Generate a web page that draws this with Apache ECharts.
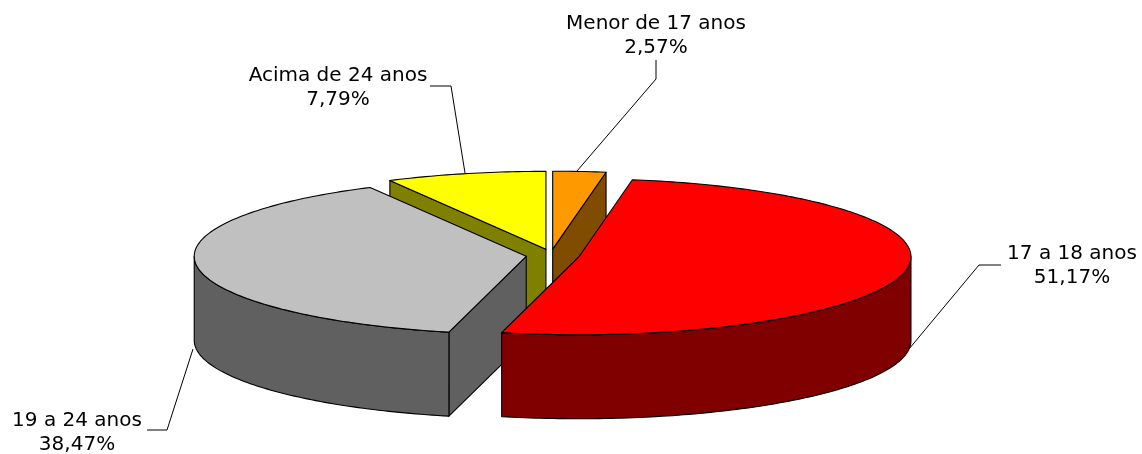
<!DOCTYPE html>
<html>
<head>
<meta charset="utf-8">
<style>html,body{margin:0;padding:0;background:#fff}#c{width:1142px;height:454px}</style>
<script src="https://cdn.jsdelivr.net/npm/echarts@6/dist/echarts.min.js"></script>
</head>
<body>
<div id="c"></div>
<script>
// Data, clockwise from 12 o'clock
var categories = ['Menor de 17 anos', '17 a 18 anos', '19 a 24 anos', 'Acima de 24 anos'];
var percentValues = [2.57, 51.17, 38.47, 7.79];
var percentLabels = ['2,57%', '51,17%', '38,47%', '7,79%'];

// Styling and layout, by slice
var topColors = ['#ff9900', '#ff0000', '#c0c0c0', '#ffff00'];
var sideColors = ['#804d00', '#800000', '#606060', '#808000'];
var paintOrder = [2, 4, 3, 1];
var centreNudgeX = [-2, 0, 0.5, 0];
var labelCentres = [[656, 36], [1072, 266], [77, 433], [338, 88]];
var leaders = [
  [[656, 60], [656, 79], [577, 171]],
  [[1001, 265], [979, 265], [909, 349]],
  [[147, 430], [167, 430], [193, 349]],
  [[430, 86], [451, 86], [465, 173]]
];
var pie = { cx: 552.5, cy: 255.5, rx: 332, ry: 78, depth: 84, explode: 27 };
var fontFamily = '"DejaVu Sans", Verdana, sans-serif';
var fontSize = 20;
var lineGap = 23.5;

var total = percentValues.reduce(function (a, b) { return a + b; }, 0);
var starts = [];
percentValues.reduce(function (acc, v, i) { starts[i] = acc; return acc + v; }, 0);

function rad(d) { return d * Math.PI / 180; }
function arcPoint(c, deg, dy) {
  return [c[0] + pie.rx * Math.sin(rad(deg)), c[1] - pie.ry * Math.cos(rad(deg)) + (dy || 0)];
}
function arcPoints(c, from, to, dy) {
  var pts = [], n = Math.max(2, Math.ceil(Math.abs(to - from)));
  for (var i = 0; i <= n; i++) pts.push(arcPoint(c, from + (to - from) * i / n, dy));
  return pts;
}
function poly(points, fill, z2) {
  return {
    type: 'polygon', z2: z2,
    shape: { points: points },
    style: { fill: fill, stroke: '#000', lineWidth: 1.1, lineJoin: 'round' }
  };
}

function renderItem(params, api) {
  var i = params.dataIndex;
  var value = api.value(0);
  var a0 = starts[i] / total * 360;
  var a1 = a0 + value / total * 360;
  var mid = (a0 + a1) / 2;
  var c = [
    pie.cx + centreNudgeX[i] + pie.explode * Math.sin(rad(mid)),
    pie.cy - pie.explode * pie.ry / pie.rx * Math.cos(rad(mid))
  ];
  var z = paintOrder[i] * 10;
  var d = pie.depth;
  var children = [];
  // radial walls that face the viewer
  [[a0, -1], [a1, 1]].forEach(function (w) {
    var ny = Math.cos(rad(w[0] + w[1] * 90));
    if (ny < -1e-6) {
      var p = arcPoint(c, w[0]);
      children.push(poly([c, p, [p[0], p[1] + d], [c[0], c[1] + d]], sideColors[i], z));
    }
  });
  // outer wall: the front half of the rim
  var f0 = Math.max(a0, 90), f1 = Math.min(a1, 270);
  if (f1 > f0) {
    var upper = arcPoints(c, f0, f1, 0);
    var lower = arcPoints(c, f1, f0, d);
    children.push(poly(upper.concat(lower), sideColors[i], z + 1));
  }
  // top face
  children.push(poly([c].concat(arcPoints(c, a0, a1, 0)), topColors[i], z + 2));

  // leader and label
  children.push({
    type: 'polyline', z2: 100,
    shape: { points: leaders[i] },
    style: { fill: null, stroke: '#000', lineWidth: 1 }
  });
  var lc = labelCentres[i];
  [categories[i], percentLabels[i]].forEach(function (t, k) {
    children.push({
      type: 'text', z2: 101,
      style: {
        text: t, x: lc[0], y: lc[1] + (k - 0.5) * lineGap,
        align: 'center', verticalAlign: 'middle',
        fontFamily: fontFamily, fontSize: fontSize, fill: '#000'
      }
    });
  });
  return { type: 'group', children: children };
}

var chart = echarts.init(document.getElementById('c'), null, { renderer: 'canvas' });
chart.setOption({
  animation: false,
  backgroundColor: '#fff',
  series: [{
    type: 'custom',
    coordinateSystem: 'none',
    renderItem: renderItem,
    data: percentValues.map(function (v, i) { return { name: categories[i], value: [v] }; })
  }]
});
</script>
</body>
</html>
